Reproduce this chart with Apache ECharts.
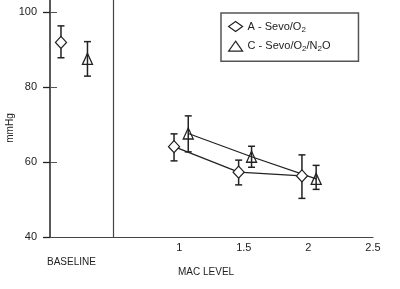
<!DOCTYPE html>
<html>
<head>
<meta charset="utf-8">
<script src="https://cdn.jsdelivr.net/npm/echarts@6/dist/echarts.min.js"></script>
<style>
  html, body { margin: 0; padding: 0; background: #fff; }
  #chart { width: 400px; height: 289px; }
</style>
</head>
<body>
<div id="chart"></div>
<script>
// x positions: baseline group first, then MAC levels 1, 1.5, 2 (markers are offset sideways)
var xA = [0.085, 0.96, 1.46, 1.95];
var xC = [0.29, 1.07, 1.56, 2.06];
// A - Sevo/O2
var meanA = [91.9, 64.1, 57.3, 56.3];
var lowA  = [87.8, 60.3, 53.9, 50.3];
var highA = [96.3, 67.5, 60.5, 61.9];
// C - Sevo/O2/N2O
var meanC = [87.5, 67.6, 61.4, 55.5];
var lowC  = [82.9, 62.7, 58.6, 52.7];
var highC = [92.1, 72.3, 64.2, 59.1];

var yTicks = [40, 60, 80, 100];
var xTicks = [1, 1.5, 2, 2.5];
var dividerX = 0.49;

var font = '"Liberation Sans", Arial, sans-serif';
var narrow = '"Liberation Sans Narrow", "Arial Narrow", "Liberation Sans", sans-serif';
var ink = '#222';

function pts(xs, ys, from) {
  var out = [];
  for (var i = from; i < xs.length; i++) out.push([xs[i], ys[i]]);
  return out;
}
function errs(xs, lo, hi) {
  return xs.map(function (x, i) { return [x, lo[i], hi[i]]; });
}

// vertical error bar with small caps
function renderErr(params, api) {
  var x = api.value(0);
  var a = api.coord([x, api.value(1)]);
  var b = api.coord([x, api.value(2)]);
  var w = 3.5;
  var st = { stroke: ink, lineWidth: 1.5 };
  return {
    type: 'group',
    children: [
      { type: 'line', shape: { x1: a[0], y1: a[1], x2: b[0], y2: b[1] }, style: st },
      { type: 'line', shape: { x1: a[0] - w, y1: a[1], x2: a[0] + w, y2: a[1] }, style: st },
      { type: 'line', shape: { x1: b[0] - w, y1: b[1], x2: b[0] + w, y2: b[1] }, style: st }
    ]
  };
}

var chart = echarts.init(document.getElementById('chart'));
chart.setOption({
  animation: false,
  grid: { left: 50, right: 27, top: 0, bottom: 52, outerBoundsMode: 'none', containLabel: false },
  xAxis: {
    type: 'value',
    min: 0,
    max: 2.5,
    splitLine: { show: false },
    axisTick: { show: false },
    axisLine: { lineStyle: { color: '#444', width: 1.2 } },
    axisLabel: { customValues: xTicks, color: '#222', fontFamily: font, fontSize: 11, margin: 5 }
  },
  yAxis: [{
    type: 'value',
    min: 40,
    max: 103.2,
    splitLine: { show: false },
    axisLine: { lineStyle: { color: ink, width: 1.5 } },
    axisTick: { customValues: yTicks, length: 7, lineStyle: { color: ink, width: 1.3 } },
    axisLabel: { customValues: yTicks, color: '#222', fontFamily: font, fontSize: 11, margin: 13 }
  }, {
    type: 'value',
    position: 'left',
    min: 40,
    max: 103.2,
    splitLine: { show: false },
    axisLine: { show: false },
    axisLabel: { show: false },
    axisTick: { customValues: [60, 80, 100], inside: true, length: 7, lineStyle: { color: '#555', width: 1 } }
  }],
  legend: {
    orient: 'vertical',
    left: 221,
    top: 13,
    padding: [8, 28, 8, 7],
    itemGap: 7,
    itemWidth: 14,
    itemHeight: 10,
    borderColor: '#555',
    borderWidth: 1.5,
    itemStyle: { borderWidth: 1.2, opacity: 1 },
    data: [{ name: 'A', icon: 'diamond' }, { name: 'C', icon: 'triangle' }],
    formatter: function (name) {
      return name === 'A'
        ? '{a|A - Sevo/O}{s|2}'
        : '{a|C - Sevo/O}{s|2}{a|/N}{s|2}{a|O}';
    },
    textStyle: {
      color: '#222',
      rich: {
        a: { fontFamily: font, fontSize: 11, color: '#222' },
        s: { fontFamily: font, fontSize: 8, color: '#222', padding: [6, 0, 0, 0] }
      }
    }
  },
  graphic: [
    {
      type: 'text', x: 10, y: 128, rotation: Math.PI / 2,
      style: { text: 'mmHg', fill: '#222', font: '10px ' + narrow, textAlign: 'center', textVerticalAlign: 'middle' }
    },
    { type: 'text', left: 47, top: 257, style: { text: 'BASELINE', fill: '#222', font: '10px ' + narrow } },
    { type: 'text', left: 178, top: 267, style: { text: 'MAC LEVEL', fill: '#222', font: '10px ' + narrow } }
  ],
  series: [
    {
      type: 'line',
      data: [],
      markLine: {
        silent: true,
        symbol: 'none',
        label: { show: false },
        lineStyle: { color: '#444', width: 1.2, type: 'solid' },
        data: [{ xAxis: dividerX }]
      }
    },
    {
      type: 'line',
      data: pts(xA, meanA, 1),
      showSymbol: false,
      symbol: 'none',
      lineStyle: { color: ink, width: 1.3 },
      z: 2
    },
    {
      type: 'line',
      data: pts(xC, meanC, 1),
      showSymbol: false,
      symbol: 'none',
      lineStyle: { color: ink, width: 1.3 },
      z: 2
    },
    {
      type: 'custom',
      renderItem: renderErr,
      data: errs(xA, lowA, highA),
      z: 3
    },
    {
      type: 'custom',
      renderItem: renderErr,
      data: errs(xC, lowC, highC),
      z: 3
    },
    {
      name: 'A',
      type: 'scatter',
      symbol: 'diamond',
      symbolSize: [11, 12],
      data: pts(xA, meanA, 0),
      itemStyle: { color: '#fff', borderColor: ink, borderWidth: 1.3, opacity: 1 },
      z: 4
    },
    {
      name: 'C',
      type: 'scatter',
      symbol: 'triangle',
      symbolSize: [10, 11],
      data: pts(xC, meanC, 0),
      itemStyle: { color: 'rgba(255,255,255,0)', borderColor: ink, borderWidth: 1.3, opacity: 1 },
      z: 4
    }
  ]
});
</script>
</body>
</html>
